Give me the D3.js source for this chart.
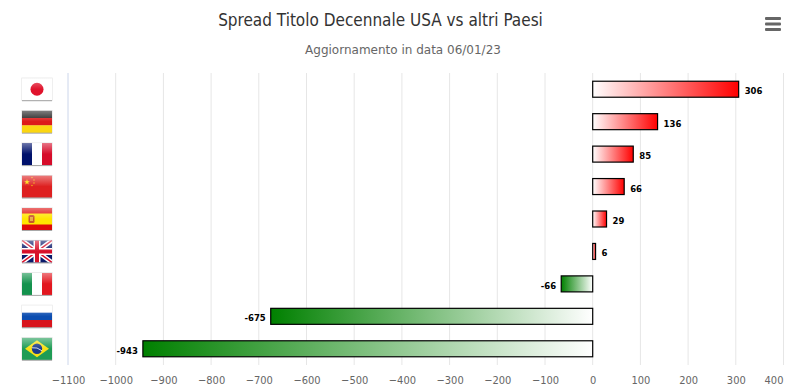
<!DOCTYPE html>
<html>
<head>
<meta charset="utf-8">
<script src="https://cdn.jsdelivr.net/npm/d3@7"></script>
<style>
  html, body { margin: 0; padding: 0; background: #fff; }
  text { font-family: "DejaVu Sans", sans-serif; }
  .cond { font-family: "DejaVu Sans Condensed", "DejaVu Sans", sans-serif; font-stretch: condensed; }
</style>
</head>
<body>
<div id="chart"></div>
<script>
'use strict'
var paesi = ['Giappone', 'Germania', 'Francia', 'Cina', 'Spagna', 'Regno Unito', 'Italia', 'Russia', 'Brasile'];
var spread = [306, 136, 85, 66, 29, 6, -66, -675, -943];
var ticks = [-1100, -1000, -900, -800, -700, -600, -500, -400, -300, -200, -100, 0, 100, 200, 300, 400];

var width = 789;
var height = 389;
var plotTop = 73;
var plotBottom = 365;
var plotLeft = 68;
var plotRight = 783.5;
var flagW = 30;
var flagH = 22;

var svg = d3.select('#chart').append('svg')
  .attr('xmlns', 'http://www.w3.org/2000/svg')
  .attr('width', width)
  .attr('height', height)
  .style('display', 'block');

var xScale = d3.scaleLinear().domain([-1100, 400]).range([plotLeft, plotRight]);
var yScale = d3.scaleBand().domain(paesi).range([plotTop, plotBottom]);
var barH = 16;

svg.append('text')
  .attr('class', 'cond')
  .attr('x', 380.5).attr('y', 26)
  .attr('text-anchor', 'middle')
  .attr('fill', '#333')
  .style('font-size', '17px')
  .text('Spread Titolo Decennale USA vs altri Paesi');

svg.append('text')
  .attr('x', 403).attr('y', 54)
  .attr('text-anchor', 'middle')
  .attr('fill', '#666')
  .style('font-size', '12px')
  .text('Aggiornamento in data 06/01/23');

// menu button
svg.append('g').selectAll('rect')
  .data([0, 1, 2]).enter()
  .append('rect')
  .attr('x', 765).attr('y', d => 17 + d * 5.5)
  .attr('width', 16).attr('height', 3)
  .attr('rx', 1)
  .attr('fill', '#666');

var defs = svg.append('defs');

var gloss = defs.append('linearGradient').attr('id', 'gloss')
  .attr('x1', 0).attr('y1', 0).attr('x2', 0).attr('y2', 1);
gloss.append('stop').attr('offset', 0).attr('stop-color', '#fff').attr('stop-opacity', 0.42);
gloss.append('stop').attr('offset', 0.5).attr('stop-color', '#fff').attr('stop-opacity', 0);

// each bar fades to white at the zero line
paesi.forEach(function (p, i) {
  var grad = defs.append('linearGradient').attr('id', 'bar' + i)
    .attr('x1', 0).attr('y1', 0).attr('x2', 1).attr('y2', 0);
  if (spread[i] >= 0) {
    grad.append('stop').attr('offset', 0).attr('stop-color', '#fff');
    grad.append('stop').attr('offset', 1).attr('stop-color', '#f00');
  } else {
    grad.append('stop').attr('offset', 0).attr('stop-color', 'green');
    grad.append('stop').attr('offset', 1).attr('stop-color', '#fff');
  }
});

// grid + axis
var xAxis = d3.axisBottom(xScale).tickValues(ticks).tickSize(0).tickPadding(11).tickFormat(d3.format('d'));
var axisG = svg.append('g')
  .attr('transform', `translate(0, ${plotBottom})`)
  .call(xAxis);
axisG.select('.domain').remove();
axisG.selectAll('text')
  .attr('class', 'cond')
  .attr('fill', '#666')
  .attr('dx', d => d === 400 ? -10 : 0)
  .style('font-size', '11px');

svg.append('g').selectAll('line')
  .data(ticks).enter()
  .append('line')
  .attr('x1', d => xScale(d)).attr('x2', d => xScale(d))
  .attr('y1', plotTop).attr('y2', plotBottom)
  .attr('stroke', d => d === -1100 ? '#ccd6eb' : '#e6e6e6');

// bars
svg.append('g').selectAll('rect')
  .data(spread).enter()
  .append('rect')
  .attr('x', d => xScale(Math.min(0, d)))
  .attr('y', (d, i) => yScale(paesi[i]) + yScale.bandwidth() / 2 - barH / 2)
  .attr('width', d => Math.abs(xScale(d) - xScale(0)))
  .attr('height', barH)
  .attr('fill', (d, i) => `url(#bar${i})`)
  .attr('stroke', '#000')
  .attr('stroke-width', 1.2);

// value labels
svg.append('g').selectAll('text')
  .data(spread).enter()
  .append('text')
  .attr('x', d => xScale(d) + (d >= 0 ? 6 : -5))
  .attr('y', (d, i) => yScale(paesi[i]) + yScale.bandwidth() / 2 + 5)
  .attr('text-anchor', d => d >= 0 ? 'start' : 'end')
  .attr('fill', '#000')
  .style('font-size', '8.5px')
  .style('font-weight', 'bold')
  .text(d => d);

/* ------------ FLAGS ------------ */
function stripesH(g, colors) {
  colors.forEach(function (c, i) {
    g.append('rect').attr('x', 0).attr('y', i * flagH / colors.length)
      .attr('width', flagW).attr('height', flagH / colors.length + 0.2).attr('fill', c);
  });
}
function stripesV(g, colors) {
  colors.forEach(function (c, i) {
    g.append('rect').attr('x', i * flagW / colors.length).attr('y', 0)
      .attr('width', flagW / colors.length + 0.2).attr('height', flagH).attr('fill', c);
  });
}
var star = '0,-1 0.24,-0.31 0.95,-0.31 0.38,0.12 0.59,0.81 0,0.4 -0.59,0.81 -0.38,0.12 -0.95,-0.31 -0.24,-0.31';

var drawFlag = {
  'Giappone': function (g) {
    stripesH(g, ['#fff']);
    g.append('circle').attr('cx', 15).attr('cy', 11).attr('r', 6.5).attr('fill', '#e0132c');
  },
  'Germania': g => stripesH(g, ['#222', '#dd1a1a', '#fbd611']),
  'Francia': g => stripesV(g, ['#00116b', '#fff', '#d60c2a']),
  'Cina': function (g) {
    stripesH(g, ['#de2020']);
    g.append('polygon').attr('points', star).attr('fill', '#ffde00')
      .attr('transform', 'translate(5,6.5) scale(3)');
    [[10, 2], [12, 4.5], [12, 7.5], [10, 10]].forEach(function (s) {
      g.append('polygon').attr('points', star).attr('fill', '#ffde00')
        .attr('transform', `translate(${s[0]},${s[1]}) scale(1)`);
    });
  },
  'Spagna': function (g) {
    g.append('rect').attr('width', flagW).attr('height', flagH).attr('fill', '#ffe600');
    g.append('rect').attr('width', flagW).attr('height', 5.5).attr('fill', '#de0a0a');
    g.append('rect').attr('y', 16.5).attr('width', flagW).attr('height', 5.5).attr('fill', '#de0a0a');
    g.append('rect').attr('x', 6.5).attr('y', 7).attr('width', 6).attr('height', 8).attr('rx', 1.5).attr('fill', '#c8562a');
    g.append('rect').attr('x', 8).attr('y', 9).attr('width', 3).attr('height', 4).attr('fill', '#e8b04a');
  },
  'Regno Unito': function (g) {
    stripesH(g, ['#0a1a6b']);
    g.append('path').attr('d', 'M0,0L30,22M30,0L0,22').attr('stroke', '#fff').attr('stroke-width', 4.5);
    g.append('path').attr('d', 'M0,0L30,22M30,0L0,22').attr('stroke', '#d8102a').attr('stroke-width', 1.5);
    g.append('path').attr('d', 'M15,0V22M0,11H30').attr('stroke', '#fff').attr('stroke-width', 7);
    g.append('path').attr('d', 'M15,0V22M0,11H30').attr('stroke', '#d8102a').attr('stroke-width', 4);
  },
  'Italia': g => stripesV(g, ['#14924d', '#fff', '#e2171f']),
  'Russia': g => stripesH(g, ['#fff', '#0c4db0', '#d8141c']),
  'Brasile': function (g) {
    stripesH(g, ['#1f9c55']);
    g.append('polygon').attr('points', '15,2.5 27,11 15,19.5 3,11').attr('fill', '#f7e017');
    g.append('circle').attr('cx', 15).attr('cy', 11).attr('r', 5.2).attr('fill', '#1b3a8c');
    g.append('path').attr('d', 'M10,10Q15,9 20,13').attr('stroke', '#fff').attr('stroke-width', 0.8).attr('fill', 'none');
  }
};

var flags = svg.append('g').selectAll('g')
  .data(paesi).enter()
  .append('g')
  .attr('transform', d => `translate(22, ${yScale(d) + yScale.bandwidth() / 2 - flagH / 2})`);

flags.each(function (d, i) {
  var g = d3.select(this);
  // soft edge, darker along the bottom
  g.append('rect').attr('x', -0.6).attr('y', -0.6)
    .attr('width', flagW + 1.2).attr('height', flagH + 1.2).attr('fill', '#e4e4e4');
  g.append('rect').attr('x', 0).attr('y', flagH - 1)
    .attr('width', flagW).attr('height', 2).attr('fill', '#a8a8a8');
  defs.append('clipPath').attr('id', 'flag' + i)
    .append('rect').attr('width', flagW).attr('height', flagH);
  var inner = g.append('g').attr('clip-path', `url(#flag${i})`);
  drawFlag[d](inner);
  inner.append('rect').attr('width', flagW).attr('height', flagH).attr('fill', 'url(#gloss)');
});
</script>
</body>
</html>
